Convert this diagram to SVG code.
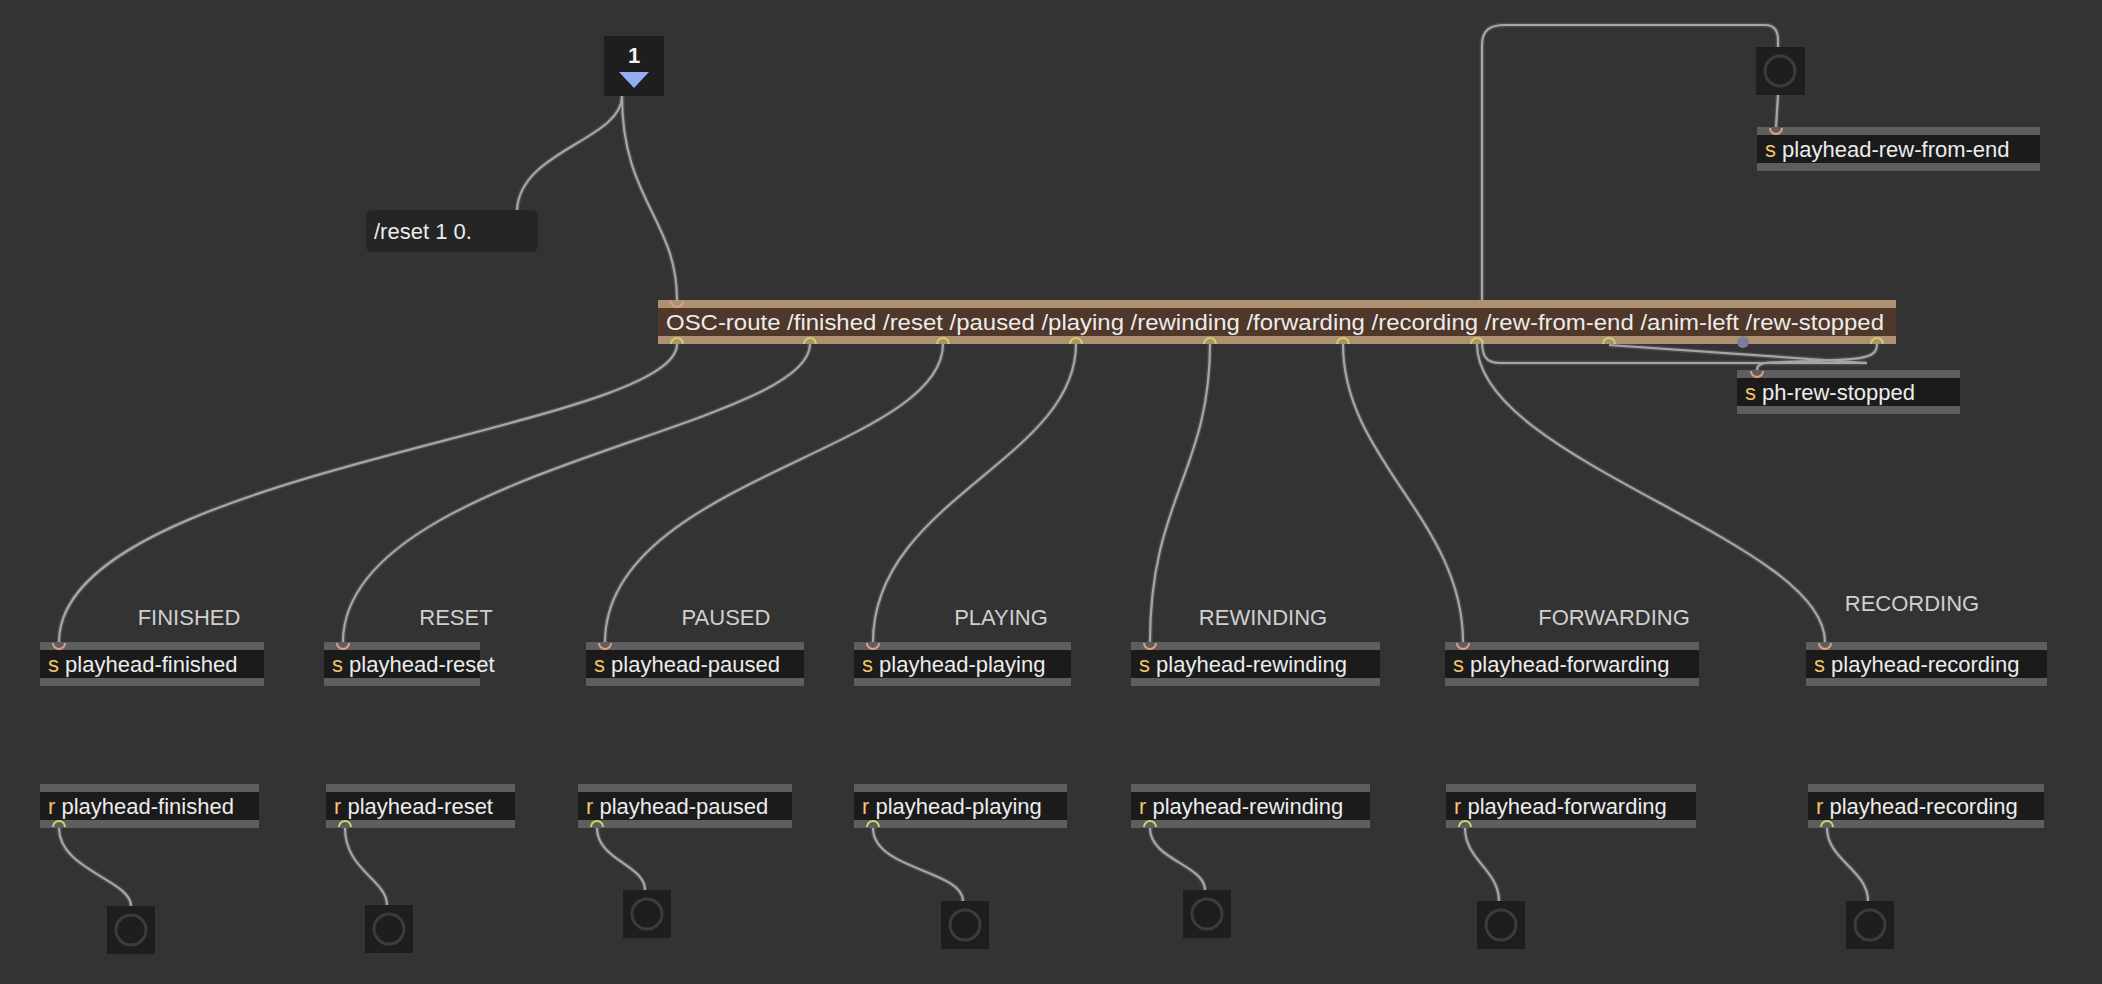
<svg xmlns="http://www.w3.org/2000/svg" width="2102" height="984" viewBox="0 0 2102 984">
<style>
.band{fill:#5e5e5e}.body{fill:#1b1b1b}
.t{font-family:"Liberation Sans",Arial,sans-serif;font-size:22px;fill:#ececec}
.k{fill:#f2c46a}
.lbl{font-family:"Liberation Sans",Arial,sans-serif;font-size:22px;fill:#cfcfcf;text-anchor:middle}
.cb{fill:none;stroke:#4a4a4a;stroke-width:5}
.cf{fill:none;stroke:#a6a6a6;stroke-width:2.2}
.bang{fill:#1e1e1e}.ring{fill:none;stroke:#3c3c3c;stroke-width:3}
.in{fill:none;stroke:#e29c86;stroke-width:2}.out{fill:none;stroke:#cdd468;stroke-width:2}
</style>
<defs>
<g id="cpaths" fill="none">
<path d="M622,96 C622,140 520,150 517,210"/>
<path d="M622,96 C622,200 677,220 677,300"/>
<path d="M677,344 C677,430 59,470 59,642"/>
<path d="M810,344 C810,430 343,470 343,642"/>
<path d="M943,344 C943,450 605,480 605,642"/>
<path d="M1076,344 C1076,460 873,500 873,642"/>
<path d="M1210,344 C1210,470 1150,500 1150,642"/>
<path d="M1343,344 C1343,460 1463,520 1463,642"/>
<path d="M1477,344 C1477,460 1825,540 1825,642"/>
<path d="M1609,345 L1867,363 L1500,363 C1485,363 1482,355 1482,340 L1482,45 C1482,30 1490,25 1505,25 L1765,25 C1775,25 1778,32 1778,40 L1778,47"/>
<path d="M1877,344 C1877,360 1860,360 1780,362 C1760,362 1757,365 1757,370"/>
<path d="M1778,95 L1776,127"/>
<path d="M59,828 C59,870 131,880 131,906"/>
<path d="M345,828 C345,870 387,880 387,905"/>
<path d="M597,828 C597,860 645,865 645,890"/>
<path d="M873,828 C873,870 963,870 963,901"/>
<path d="M1150,828 C1150,860 1205,865 1205,890"/>
<path d="M1465,828 C1465,860 1499,870 1499,901"/>
<path d="M1827,828 C1827,860 1868,870 1868,901"/>
</g>
</defs>
<rect width="2102" height="984" fill="#333333"/>
<g id="connectors">
<use href="#cpaths" class="cb"/>
<use href="#cpaths" class="cf"/>
</g>
<g id="number">
<rect x="604" y="36" width="60" height="60" fill="#1e1e1e"/>
<text x="634" y="63" font-family="Liberation Sans,Arial,sans-serif" font-size="22" font-weight="bold" fill="#f2f2f2" text-anchor="middle">1</text>
<polygon points="619,72 649,72 634,88" fill="#93acf2"/>
</g>
<g id="msg">
<rect x="366" y="210" width="172" height="42" rx="6" fill="#252525"/>
<text class="t" x="374" y="239">/reset 1 0.</text>
</g>
<g id="oscroute">
<rect x="658" y="300" width="1238" height="44" fill="#ad9170"/>
<rect x="658" y="308" width="1238" height="28" fill="#4f3729"/>
<text class="t" x="666" y="330" textLength="1218" lengthAdjust="spacingAndGlyphs">OSC-route /finished /reset /paused /playing /rewinding /forwarding /recording /rew-from-end /anim-left /rew-stopped</text>
<path class="in" d="M671,301 A6,6 0 0 0 683,301"/>
<g class="out"><path d="M671,344 A6,6 0 0 1 683,344"/><path d="M804,344 A6,6 0 0 1 816,344"/><path d="M937,344 A6,6 0 0 1 949,344"/><path d="M1070,344 A6,6 0 0 1 1082,344"/><path d="M1204,344 A6,6 0 0 1 1216,344"/><path d="M1337,344 A6,6 0 0 1 1349,344"/><path d="M1471,344 A6,6 0 0 1 1483,344"/><path d="M1603,344 A6,6 0 0 1 1615,344"/><path d="M1871,344 A6,6 0 0 1 1883,344"/></g>
<circle cx="1743" cy="342" r="6" fill="#7d7d9a"/>
</g>
<g id="bang-top"><rect x="1756" y="47" width="49" height="48" class="bang"/><circle cx="1780" cy="71" r="15" class="ring"/></g>
<g id="s-rew-from-end"><rect class="band" x="1757" y="127" width="283" height="44"/><rect class="body" x="1757" y="135" width="283" height="28"/><text class="t" x="1765" y="157"><tspan class="k">s</tspan> playhead-rew-from-end</text><path class="in" d="M1770,128 A6,6 0 0 0 1782,128"/></g>
<g id="s-ph-rew-stopped"><rect class="band" x="1737" y="370" width="223" height="44"/><rect class="body" x="1737" y="378" width="223" height="28"/><text class="t" x="1745" y="400"><tspan class="k">s</tspan> ph-rew-stopped</text><path class="in" d="M1751,371 A6,6 0 0 0 1763,371"/></g>
<g id="labels">
<text class="lbl" x="189" y="625">FINISHED</text>
<text class="lbl" x="456" y="625">RESET</text>
<text class="lbl" x="726" y="625">PAUSED</text>
<text class="lbl" x="1001" y="625">PLAYING</text>
<text class="lbl" x="1263" y="625">REWINDING</text>
<text class="lbl" x="1614" y="625">FORWARDING</text>
<text class="lbl" x="1912" y="611">RECORDING</text>
</g>
<g id="s-finished"><rect class="band" x="40" y="642" width="224" height="44"/><rect class="body" x="40" y="650" width="224" height="28"/><text class="t" x="48" y="672"><tspan class="k">s</tspan> playhead-finished</text><path class="in" d="M53,643 A6,6 0 0 0 65,643"/></g>
<g id="s-reset"><rect class="band" x="324" y="642" width="156" height="44"/><rect class="body" x="324" y="650" width="156" height="28"/><text class="t" x="332" y="672"><tspan class="k">s</tspan> playhead-reset</text><path class="in" d="M337,643 A6,6 0 0 0 349,643"/></g>
<g id="s-paused"><rect class="band" x="586" y="642" width="218" height="44"/><rect class="body" x="586" y="650" width="218" height="28"/><text class="t" x="594" y="672"><tspan class="k">s</tspan> playhead-paused</text><path class="in" d="M599,643 A6,6 0 0 0 611,643"/></g>
<g id="s-playing"><rect class="band" x="854" y="642" width="217" height="44"/><rect class="body" x="854" y="650" width="217" height="28"/><text class="t" x="862" y="672"><tspan class="k">s</tspan> playhead-playing</text><path class="in" d="M867,643 A6,6 0 0 0 879,643"/></g>
<g id="s-rewinding"><rect class="band" x="1131" y="642" width="249" height="44"/><rect class="body" x="1131" y="650" width="249" height="28"/><text class="t" x="1139" y="672"><tspan class="k">s</tspan> playhead-rewinding</text><path class="in" d="M1144,643 A6,6 0 0 0 1156,643"/></g>
<g id="s-forwarding"><rect class="band" x="1445" y="642" width="254" height="44"/><rect class="body" x="1445" y="650" width="254" height="28"/><text class="t" x="1453" y="672"><tspan class="k">s</tspan> playhead-forwarding</text><path class="in" d="M1457,643 A6,6 0 0 0 1469,643"/></g>
<g id="s-recording"><rect class="band" x="1806" y="642" width="241" height="44"/><rect class="body" x="1806" y="650" width="241" height="28"/><text class="t" x="1814" y="672"><tspan class="k">s</tspan> playhead-recording</text><path class="in" d="M1819,643 A6,6 0 0 0 1831,643"/></g>
<g id="r-finished"><rect class="band" x="40" y="784" width="219" height="44"/><rect class="body" x="40" y="792" width="219" height="28"/><text class="t" x="48" y="814"><tspan class="k">r</tspan> playhead-finished</text><path class="out" d="M53,827 A6,6 0 0 1 65,827"/></g>
<g id="r-reset"><rect class="band" x="326" y="784" width="189" height="44"/><rect class="body" x="326" y="792" width="189" height="28"/><text class="t" x="334" y="814"><tspan class="k">r</tspan> playhead-reset</text><path class="out" d="M339,827 A6,6 0 0 1 351,827"/></g>
<g id="r-paused"><rect class="band" x="578" y="784" width="214" height="44"/><rect class="body" x="578" y="792" width="214" height="28"/><text class="t" x="586" y="814"><tspan class="k">r</tspan> playhead-paused</text><path class="out" d="M591,827 A6,6 0 0 1 603,827"/></g>
<g id="r-playing"><rect class="band" x="854" y="784" width="213" height="44"/><rect class="body" x="854" y="792" width="213" height="28"/><text class="t" x="862" y="814"><tspan class="k">r</tspan> playhead-playing</text><path class="out" d="M867,827 A6,6 0 0 1 879,827"/></g>
<g id="r-rewinding"><rect class="band" x="1131" y="784" width="239" height="44"/><rect class="body" x="1131" y="792" width="239" height="28"/><text class="t" x="1139" y="814"><tspan class="k">r</tspan> playhead-rewinding</text><path class="out" d="M1144,827 A6,6 0 0 1 1156,827"/></g>
<g id="r-forwarding"><rect class="band" x="1446" y="784" width="250" height="44"/><rect class="body" x="1446" y="792" width="250" height="28"/><text class="t" x="1454" y="814"><tspan class="k">r</tspan> playhead-forwarding</text><path class="out" d="M1459,827 A6,6 0 0 1 1471,827"/></g>
<g id="r-recording"><rect class="band" x="1808" y="784" width="236" height="44"/><rect class="body" x="1808" y="792" width="236" height="28"/><text class="t" x="1816" y="814"><tspan class="k">r</tspan> playhead-recording</text><path class="out" d="M1821,827 A6,6 0 0 1 1833,827"/></g>
<g id="bang1"><rect class="bang" x="107" y="906" width="48" height="48"/><circle class="ring" cx="131" cy="930" r="15"/></g>
<g id="bang2"><rect class="bang" x="365" y="905" width="48" height="48"/><circle class="ring" cx="389" cy="929" r="15"/></g>
<g id="bang3"><rect class="bang" x="623" y="890" width="48" height="48"/><circle class="ring" cx="647" cy="914" r="15"/></g>
<g id="bang4"><rect class="bang" x="941" y="901" width="48" height="48"/><circle class="ring" cx="965" cy="925" r="15"/></g>
<g id="bang5"><rect class="bang" x="1183" y="890" width="48" height="48"/><circle class="ring" cx="1207" cy="914" r="15"/></g>
<g id="bang6"><rect class="bang" x="1477" y="901" width="48" height="48"/><circle class="ring" cx="1501" cy="925" r="15"/></g>
<g id="bang7"><rect class="bang" x="1846" y="901" width="48" height="48"/><circle class="ring" cx="1870" cy="925" r="15"/></g>
</svg>
